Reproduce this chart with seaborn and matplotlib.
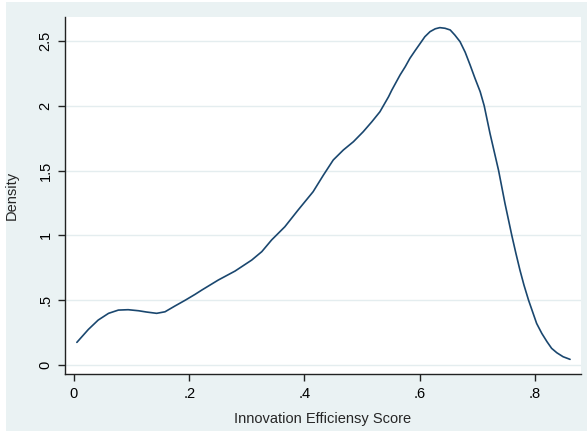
import matplotlib
matplotlib.use("Agg")
import matplotlib.pyplot as plt
from matplotlib.patches import Rectangle
import pandas as pd
import seaborn as sns

# Kernel density estimate of the innovation efficiency score
score = [0.005, 0.025, 0.042, 0.060, 0.077, 0.094, 0.112, 0.126, 0.1435, 0.158,
         0.175, 0.193, 0.210, 0.222, 0.2505, 0.2795, 0.3085, 0.326, 0.343, 0.366,
         0.389, 0.415, 0.433, 0.450, 0.4675, 0.485, 0.502, 0.517, 0.531, 0.546,
         0.5515, 0.566, 0.575, 0.583, 0.592, 0.601, 0.609, 0.618, 0.627, 0.635,
         0.644, 0.653, 0.661, 0.670, 0.679, 0.6875, 0.696, 0.705, 0.712, 0.722,
         0.737, 0.748, 0.760, 0.767, 0.774, 0.781, 0.789, 0.803,
         0.812, 0.821, 0.829, 0.838, 0.849, 0.861]
density = [0.175, 0.275, 0.347, 0.399, 0.424, 0.427, 0.419, 0.409, 0.399, 0.411,
           0.455, 0.500, 0.545, 0.579, 0.656, 0.725, 0.810, 0.875, 0.965, 1.067,
           1.196, 1.337, 1.466, 1.582, 1.659, 1.723, 1.800, 1.877, 1.954, 2.070,
           2.120, 2.238, 2.302, 2.366, 2.425, 2.482, 2.533, 2.572, 2.594, 2.603,
           2.598, 2.585, 2.546, 2.495, 2.413, 2.315, 2.212, 2.109, 2.000, 1.788,
           1.500, 1.248, 0.998, 0.862, 0.733, 0.617, 0.500, 0.321,
           0.244, 0.180, 0.129, 0.095, 0.064, 0.044]

x_ticks = [0, 0.2, 0.4, 0.6, 0.8]
x_tick_labels = ["0", ".2", ".4", ".6", ".8"]
y_ticks = [0, 0.5, 1, 1.5, 2, 2.5]
y_tick_labels = ["0", ".5", "1", "1.5", "2", "2.5"]

df = pd.DataFrame({"score": score, "density": density})

sns.set_style("white")
plt.rcParams["font.family"] = ["Liberation Sans", "DejaVu Sans"]

BG = "#EAF2F3"
LINE = "#1A476F"

W, H = 587, 432
fig = plt.figure(figsize=(W / 100, H / 100), dpi=100, facecolor="white")
fig.patches.append(Rectangle((6 / W, 1 / H), 1 - 6 / W, 1 - 3 / H,
                             transform=fig.transFigure, facecolor=BG,
                             edgecolor="none", zorder=-10))

ax = fig.add_axes([65 / W, (H - 374) / H, (581 - 65) / W, (374 - 17) / H])
ax.set_facecolor("white")

sns.lineplot(data=df, x="score", y="density", sort=False, ax=ax,
             color=LINE, linewidth=1.2, estimator=None)

ax.set_xlim(-0.0156, 0.880)
ax.set_ylim(-0.069, 2.685)

ax.set_xticks(x_ticks)
ax.set_xticklabels(x_tick_labels)
ax.set_yticks(y_ticks)
ax.set_yticklabels(y_tick_labels, rotation=90, va="center")

ax.yaxis.grid(True, color="#E4EDEF", linewidth=1.0)
ax.xaxis.grid(False)
ax.set_axisbelow(True)

for side in ["top", "right"]:
    ax.spines[side].set_visible(False)
for side in ["left", "bottom"]:
    ax.spines[side].set_color("#222222")
    ax.spines[side].set_linewidth(1.0)

ax.tick_params(axis="both", which="major", direction="out", length=5,
               width=1.0, color="#222222", labelsize=10.5, labelcolor="black",
               pad=4, left=True, bottom=True)

ax.set_xlabel("Innovation Efficiensy Score", fontsize=10.5, labelpad=8)
ax.set_ylabel("Density", fontsize=10.5, labelpad=14)

fig.savefig("out.png", dpi=100, facecolor=fig.get_facecolor())
